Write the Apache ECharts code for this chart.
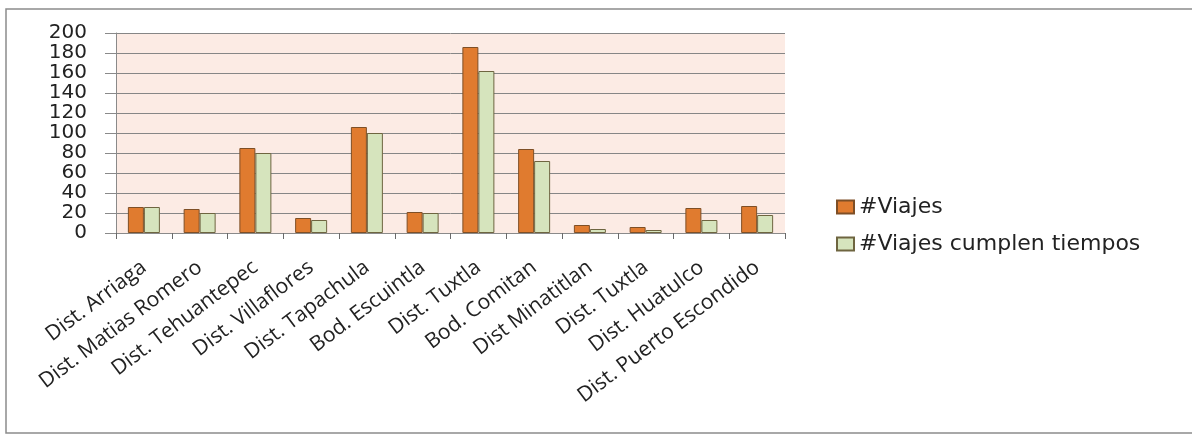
<!DOCTYPE html>
<html>
<head>
<meta charset="utf-8">
<script src="https://cdn.jsdelivr.net/npm/echarts@6/dist/echarts.min.js"></script>
<style>
  html, body { margin: 0; padding: 0; background: #ffffff; }
  #chart { width: 1192px; height: 435px; }
</style>
</head>
<body>
<div id="chart"></div>
<script>
// Trips per distribution centre, and how many of them were on time
const categories = [
  'Dist. Arriaga', 'Dist. Matias Romero', 'Dist. Tehuantepec', 'Dist. Villaflores',
  'Dist. Tapachula', 'Bod. Escuintla', 'Dist. Tuxtla', 'Bod. Comitan',
  'Dist Minatitlan', 'Dist. Tuxtla', 'Dist. Huatulco', 'Dist. Puerto Escondido'
];
const viajes = [26, 24, 85, 15, 106, 21, 186, 84, 8, 6, 25, 27];
const viajesCumplen = [26, 20, 80, 13, 100, 20, 162, 72, 4, 3, 13, 18];
const seriesNames = ['#Viajes', '#Viajes cumplen tiempos'];

const chart = echarts.init(document.getElementById('chart'), null, { renderer: 'canvas' });

chart.setOption({
  backgroundColor: '#ffffff',
  animation: false,
  graphic: [{
    type: 'rect',
    shape: { x: 6, y: 9, width: 1200, height: 424 },
    style: { fill: 'none', stroke: '#8c8c8c', lineWidth: 1.5 },
    silent: true
  }],
  grid: {
    left: 116, right: 407, top: 33, bottom: 202,
    show: true, backgroundColor: '#fcebe4', borderWidth: 0
  },
  legend: {
    orient: 'vertical',
    left: 831, top: 191,
    itemWidth: 17, itemHeight: 13,
    itemGap: 15,
    icon: 'rect',
    textStyle: { fontFamily: 'DejaVu Sans', fontSize: 22, color: '#222' },
    data: seriesNames
  },
  xAxis: {
    type: 'category',
    data: categories,
    axisLine: { show: true, lineStyle: { color: '#8a8a8a', width: 1 } },
    axisTick: { show: true, length: 6, lineStyle: { color: '#6a6a6a' } },
    axisLabel: {
      interval: 0, rotate: 37, margin: 32,
      fontFamily: 'Open Sans', fontSize: 21, color: '#222'
    }
  },
  yAxis: {
    type: 'value',
    min: 0, max: 200, interval: 20,
    axisLine: { show: true, lineStyle: { color: '#8a8a8a', width: 1 } },
    axisTick: { show: true, inside: false, length: 11, lineStyle: { color: '#8a8a8a' } },
    splitLine: { show: true, lineStyle: { color: '#868686', width: 1 } },
    axisLabel: {
      margin: 29,
      showMinLabel: true, showMaxLabel: true, hideOverlap: false,
      fontFamily: 'DejaVu Sans', fontSize: 20, color: '#222', lineHeight: 18
    }
  },
  series: [
    {
      name: seriesNames[0], type: 'bar', data: viajes,
      barWidth: 16, barGap: '0%',
      itemStyle: { color: '#e07b2f', borderColor: '#7e4f26', borderWidth: 1 }
    },
    {
      name: seriesNames[1], type: 'bar', data: viajesCumplen,
      barWidth: 16, barGap: '0%',
      itemStyle: { color: '#d6e4bd', borderColor: '#6e6540', borderWidth: 1 }
    }
  ]
});
</script>
</body>
</html>
